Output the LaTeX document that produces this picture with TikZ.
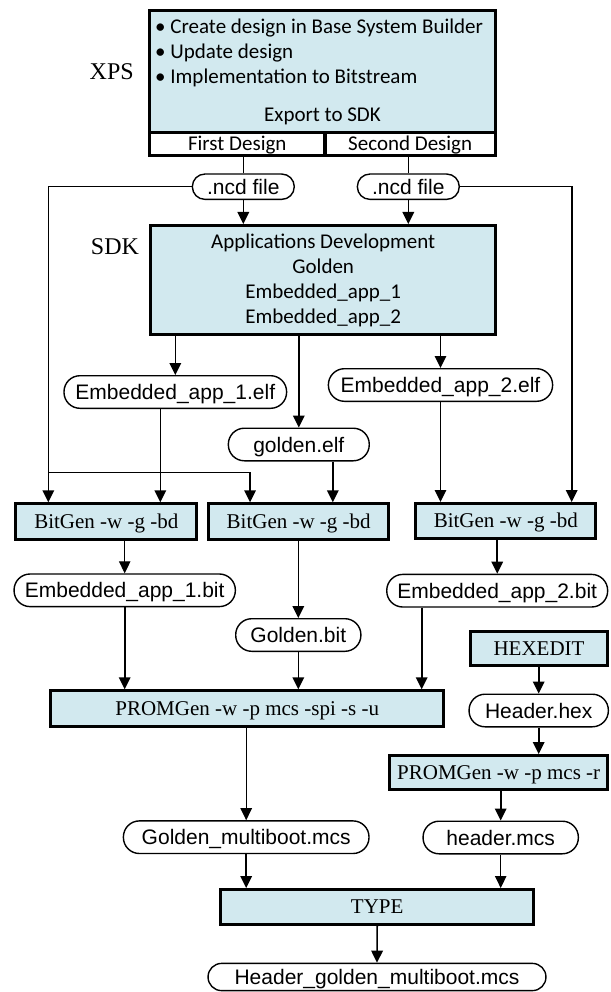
\documentclass[tikz,border=0pt]{standalone}
\usepackage{fontspec}
\setmainfont{Liberation Serif}
\newfontfamily\calibrifont{Carlito}
\newfontfamily\arialfont{Liberation Sans}
\usepackage{xcolor}
\definecolor{boxblue}{RGB}{210,233,239}
\usetikzlibrary{arrows.meta}

\begin{document}
\begin{tikzpicture}[x=1pt,y=-1pt,>={Triangle[length=12pt,width=11.5pt]},
  procbox/.style={draw,line width=3pt,fill=boxblue,inner sep=0pt,
    font=\fontsize{21}{25}\selectfont,text height=13.9pt,text depth=0pt},
  stagebox/.style={draw,line width=3pt,inner sep=0pt,
    font=\calibrifont\fontsize{21}{25}\selectfont},
  filebox/.style={draw,line width=1.4pt,rounded corners=16pt,inner sep=0pt,
    minimum height=32.6pt,font=\arialfont\fontsize{21}{25}\selectfont,
    text height=15pt,text depth=0pt},
  flow/.style={line width=1.6pt,->},
  thinflow/.style={line width=0.9pt,->}]
\useasboundingbox (0,0) rectangle (610,992);

% XPS stage
\node[stagebox,fill=boxblue,minimum width=345.4pt,minimum height=121.5pt] (xps) at (322.5,71.55) {};
\node[stagebox,fill=white,minimum width=175.2pt,minimum height=23.5pt,text height=13.5pt,text depth=0pt] (designA) at (237.3,144.1) {First Design};
\node[stagebox,fill=white,minimum width=170.2pt,minimum height=23.5pt,text height=13.5pt,text depth=0pt] (designB) at (410.2,144.1) {Second Design};
\begin{scope}[every node/.style={inner sep=0pt,font=\calibrifont\fontsize{21}{25}\selectfont}]
  \node[anchor=base west] (xpsA) at (155,33.3) {\textbullet\ Create design in Base System Builder};
  \node[anchor=base west] (xpsB) at (155,58.3) {\textbullet\ Update design};
  \node[anchor=base west] (xpsC) at (155,83.3) {\textbullet\ Implementation to Bitstream};
  \node[anchor=base] (xpsD) at (322.5,121.7) {Export to SDK};
\end{scope}
\node[font=\fontsize{24}{28}\selectfont] (xpslabel) at (111.7,71.7) {XPS};

% SDK stage
\node[filebox,minimum height=25.3pt,minimum width=101.9pt,rounded corners=12.5pt] (ncdA) at (243.3,186.7) {.ncd file};
\node[filebox,minimum height=25.3pt,minimum width=101.9pt,rounded corners=12.5pt] (ncdB) at (408.3,186.7) {.ncd file};
\node[stagebox,fill=boxblue,minimum width=345.3pt,minimum height=109pt,align=center] (sdk) at (323.2,280) {Applications Development\\Golden\\Embedded\_app\_1\\Embedded\_app\_2};
\node[font=\fontsize{24}{28}\selectfont] (sdklabel) at (115,246.7) {SDK};

\node[filebox,minimum width=222.6pt] (elf1) at (175.3,392) {Embedded\_app\_1.elf};
\node[filebox,minimum width=224.2pt] (elf2) at (440.5,385) {Embedded\_app\_2.elf};
\node[filebox,minimum width=140.9pt] (goldelf) at (298.8,444.5) {golden.elf};

% bitstreams
\node[procbox,minimum width=181pt,minimum height=35.4pt] (bg1) at (106.3,521.5) {BitGen -w -g -bd};
\node[procbox,minimum width=179.6pt,minimum height=35.4pt] (bg2) at (298.7,521.5) {BitGen -w -g -bd};
\node[procbox,minimum width=180pt,minimum height=35pt] (bg3) at (505.8,521) {BitGen -w -g -bd};
\node[filebox,minimum width=221.3pt] (bit1) at (124.7,590.3) {Embedded\_app\_1.bit};
\node[filebox,minimum width=220.9pt] (bit2) at (497.2,590.7) {Embedded\_app\_2.bit};
\node[filebox,minimum width=125.2pt] (goldbit) at (298.3,635) {Golden.bit};

% PROM files
\node[procbox,minimum width=137pt,minimum height=34.3pt] (hexedit) at (539,648.7) {HEXEDIT};
\node[filebox,minimum width=139.3pt] (hdrhex) at (538.7,710.5) {Header.hex};
\node[procbox,minimum width=392.6pt,minimum height=35.4pt] (prom1) at (247.2,708.5) {PROMGen -w -p mcs -spi -s -u};
\node[procbox,minimum width=217.6pt,minimum height=34pt] (prom2) at (498.7,772.5) {PROMGen -w -p mcs -r};
\node[filebox,minimum width=245.6pt] (multi) at (246.2,837.2) {Golden\_multiboot.mcs};
\node[filebox,minimum width=155.3pt] (hdrmcs) at (500.7,837.5) {header.mcs};
\node[procbox,minimum width=312.6pt,minimum height=35pt] (typebox) at (377.2,907) {TYPE};
\node[filebox,minimum width=337.9pt,minimum height=27.2pt,rounded corners=13.5pt] (final) at (377,977) {Header\_golden\_multiboot.mcs};

% connectors
\coordinate (lbus) at (48.3,472.3);
\coordinate (mbus) at (250,0);
\coordinate (rbus) at (571.7,0);
\draw[line width=1.6pt] (ncdA.north) -- (ncdA.north |- designA.south);
\draw[line width=1.6pt] (ncdB.north) -- (ncdB.north |- designB.south);
\draw[flow] (ncdA.south) -- (ncdA.south |- sdk.north);
\draw[flow] (ncdB.south) -- (ncdB.south |- sdk.north);
\draw[flow] (ncdA.west) -| (lbus) -- (lbus |- bg1.north);
\draw[flow] (lbus) -| (bg2.north -| mbus);
\draw[flow] (ncdB.east) -| (bg3.north -| rbus);
\draw[flow] (sdk.south -| elf1.north) -- (elf1.north);
\draw[flow] (sdk.south -| goldelf.north) -- (goldelf.north);
\draw[flow] (sdk.south -| elf2.north) -- (elf2.north);
\draw[flow] ([xshift=-15pt]elf1.south) -- ([xshift=-15pt]elf1.south |- bg1.north);
\draw[flow] ([xshift=34pt]goldelf.south) -- ([xshift=34pt]goldelf.south |- bg2.north);
\draw[flow] (elf2.south) -- (elf2.south |- bg3.north);
\draw[thinflow] (bit1.north |- bg1.south) -- (bit1.north);
\draw[flow] (bg2.south -| goldbit.north) -- (goldbit.north);
\draw[flow] (bit2.north |- bg3.south) -- (bit2.north);
\draw[flow] (bit1.south) -- (bit1.south |- prom1.north);
\draw[flow] (goldbit.south) -- (goldbit.south |- prom1.north);
\draw[flow] ([xshift=-75.5pt]bit2.south) -- ([xshift=-75.5pt]bit2.south |- prom1.north);
\draw[thinflow] (prom1.south -| multi.north) -- (multi.north);
\draw[flow] (hexedit.south -| hdrhex.north) -- (hdrhex.north);
\draw[flow] (hdrhex.south) -- (hdrhex.south |- prom2.north);
\draw[flow] (prom2.south -| hdrmcs.north) -- (hdrmcs.north);
\draw[flow] (multi.south) -- (multi.south |- typebox.north);
\draw[thinflow] (hdrmcs.south) -- (hdrmcs.south |- typebox.north);
\draw[flow] (typebox.south) -- (final.north);
\end{tikzpicture}
\end{document}
